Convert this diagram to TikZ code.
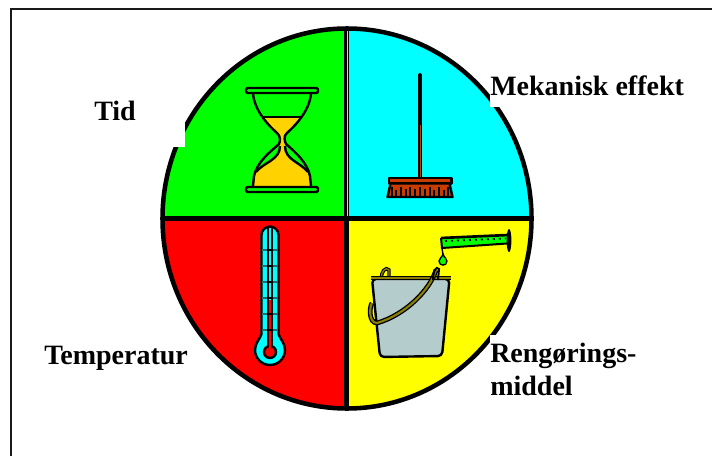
\documentclass[tikz,border=0pt]{standalone}
\usepackage{fontspec}
\setmainfont{Liberation Serif}
\usepackage{xcolor}
\usetikzlibrary{positioning}
\definecolor{piegreen}{HTML}{00FF00}
\definecolor{piecyan}{HTML}{00FFFF}
\definecolor{piered}{HTML}{FF0000}
\definecolor{pieyellow}{HTML}{FFFF00}
\definecolor{sand}{HTML}{FFD200}
\definecolor{brush}{HTML}{C83C00}
\definecolor{steel}{HTML}{B5CCCC}
\definecolor{handle}{HTML}{8C8000}
\definecolor{tick}{HTML}{1F6F6F}
\tikzset{
    labeltext/.style={fill=white, inner sep=0pt, anchor=base west, font=\fontsize{21pt}{24.75pt}\selectfont\bfseries, align=left},
    divider/.style={line width=3.6pt, color=black},
    outline/.style={draw=black, line width=1.8pt, line join=round},
    thinline/.style={draw=black, line width=1.2pt}
}
\begin{document}
\begin{tikzpicture}[x=0.75pt, y=-0.75pt]
\useasboundingbox (0,0) rectangle (712,456);

% page frame
\draw[line width=1.5pt, black!90] (10.5,456) -- (10.5,9.5) -- (712,9.5);

% pie quadrants
\begin{scope}
\clip (347,218.5) ellipse [x radius=184.5, y radius=190];
\fill[piegreen] (150,20) rectangle (347,218.5);
\fill[piecyan] (347,20) rectangle (540,218.5);
\fill[piered] (150,218.5) rectangle (347,420);
\fill[pieyellow] (347,218.5) rectangle (540,420);
\end{scope}
\draw[divider] (346.5,28.5) -- (346.5,408.5);
\draw[line width=0.7pt, piecyan!50] (347.6,30) -- (347.6,216);
\draw[divider] (162.5,218.5) -- (531.5,218.5);
\draw[line width=3.4pt] (347,218.5) ellipse [x radius=184.5, y radius=190];

% hourglass
\fill[sand] (262,117) -- (303,117) .. controls (297,125) and (285,130) .. (285,142) -- (285,148) .. controls (286,160) and (300,162) .. (308,172) -- (311,186) -- (253,186) -- (256,172) .. controls (264,162) and (279,160) .. (280,148) -- (280,142) .. controls (280,130) and (268,125) .. (262,117) -- cycle;
\draw[outline] (253,93) .. controls (254,110) and (268,125) .. (277,133) .. controls (281,136) and (280,142) .. (279,144) .. controls (270,152) and (257,162) .. (254,176) -- (253,186);
\draw[outline] (311,93) .. controls (310,110) and (296,125) .. (287,133) .. controls (283,136) and (285,142) .. (286,144) .. controls (295,152) and (307,162) .. (310,176) -- (311,186);
\draw[outline] (263,117) -- (302,117);
\draw[outline] (280,146) .. controls (280,160) and (264,162) .. (256,172);
\draw[outline] (285,146) .. controls (285,160) and (300,162) .. (308,172);
\draw[outline, fill=piegreen, rounded corners=1pt] (246,88) rectangle (318,93);
\draw[outline, fill=piegreen, rounded corners=1pt] (246,187) rectangle (318,192);

% broom
\draw[line width=3pt, line cap=round] (420,75) -- (420,178);
\draw[line width=0.7pt, brush] (420,125) -- (420,178);
\draw[outline, fill=brush] (389,178) rectangle (451.5,183.5);
\draw[outline, fill=brush] (390.5,183.5) -- (449.5,183.5) -- (452.5,197) -- (387.5,197) -- cycle;
\foreach \bx/\by in {392/187,396/190,401/187,406/189,410/187,415/189,420/187,425/189,430/187,434/190,439/187,444/190,448/187}
    \draw[line width=1.4pt] (\bx,\by) -- (\bx,196);

% thermometer
\draw[outline, fill=piecyan] (261.5,235) arc [start angle=180, end angle=360, radius=8.5] -- (278.5,334) .. controls (280,339) and (285,343) .. (285,350) arc [start angle=0, end angle=180, radius=15] .. controls (255,343) and (260,339) .. (261.5,334) -- cycle;
\foreach \ty in {250,266,282,298,314,330}
    \draw[tick, line width=1pt] (262,\ty) -- (278,\ty);
\fill[piered] (268,300) rectangle (272,346);
\fill[piecyan] (268,228) rectangle (272,300);
\foreach \ty in {250,266,282,298,314,330}
    \draw[black, line width=1pt] (268,\ty) -- (272,\ty);
\draw[thinline] (268,228) -- (268,346);
\draw[thinline] (272,228) -- (272,346);
\draw[outline, fill=piered] (270,352) circle [radius=6];
\fill[piered] (268.9,342) rectangle (271.1,349);

% bucket
\draw[outline, fill=steel, rounded corners=3pt] (372,279) -- (449.5,279) -- (442,356) -- (380,357) -- cycle;
\draw[line width=2.6pt, black] (382,279) .. controls (380,272) and (386,266) .. (389,270) -- (389,279);
\draw[line width=1pt, handle] (382,279) .. controls (380,272) and (386,266) .. (389,270) -- (389,279);
\draw[line width=3.2pt, black] (371,278) -- (451,278);
\draw[line width=1.3pt, handle] (371,278) -- (451,278);
\draw[line width=3.6pt, black] (436,270) .. controls (430,290) and (405,315) .. (377,323) .. controls (369,323) and (369,308) .. (372,303);
\draw[line width=1.6pt, handle] (436,270) .. controls (430,290) and (405,315) .. (377,323) .. controls (369,323) and (369,308) .. (372,303);
\draw[line width=1.5pt] (433,280) .. controls (433,272) and (436,265) .. (439,269) -- (438,280);

% measuring tube
\fill[piegreen] (441,239) -- (507,236) -- (507,243.5) -- (442,248) -- cycle;
\draw[line width=2pt] (441,238) -- (508,235);
\draw[line width=1.5pt] (441,238) -- (442,248) -- (507,243.5);
\draw[line width=1.3pt, dash pattern=on 1.5pt off 3pt] (445,241) -- (506,238.5);
\fill (509,240.5) ellipse [x radius=2.4, y radius=11.5];
\draw[line width=1pt] (442,248) -- (443,255);
\draw[line width=1pt, fill=piegreen] (443,254) .. controls (442,258) and (439,258) .. (439,261) .. controls (439,266.5) and (447,266.5) .. (447,261) .. controls (447,258) and (444,258) .. (443,254) -- cycle;

% labels
\node[labeltext, text width=68.25pt, text depth=20.25pt] (tid) at (94,120) {Tid};
\node[labeltext, text depth=8.25pt] (mekanisk) at (490,96) {Mekanisk effekt};
\node[labeltext, anchor=north west, inner ysep=6pt] (middel) at (490,335) {Rengørings-\\middel};
\node[labeltext] (temperatur) at (44,364) {Temperatur};

\end{tikzpicture}
\end{document}
